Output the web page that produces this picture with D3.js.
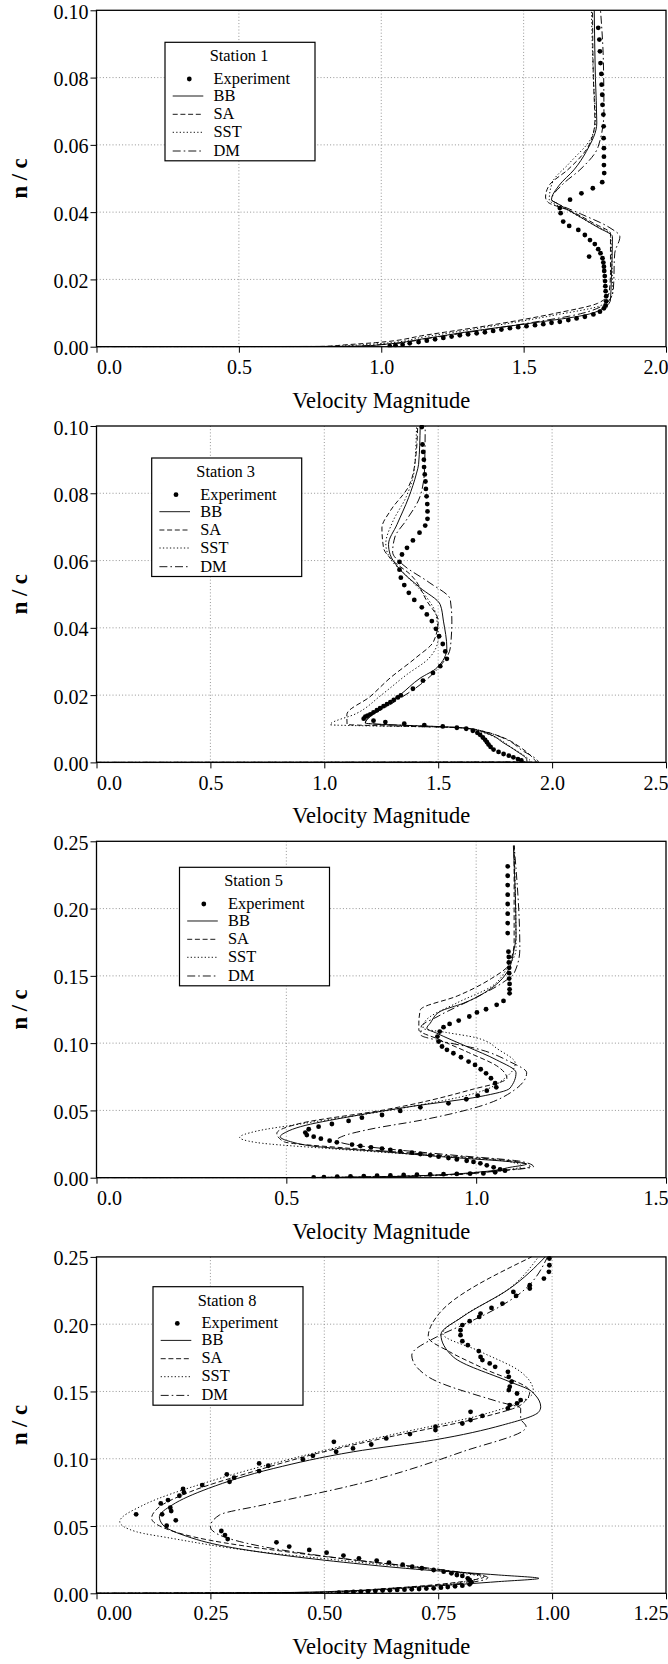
<!DOCTYPE html>
<html><head><meta charset="utf-8">
<script src="https://cdn.jsdelivr.net/npm/d3@7"></script>
<style>
body{margin:0;background:#fff}
svg{display:block}
svg text{font-family:"Liberation Serif","Times New Roman",Times,serif;}
</style>
</head><body>
<svg id="chart" width="668" height="1664"></svg>
<script>
// ---------------- DATA ----------------
const stationNames = ["Station 1", "Station 3", "Station 5", "Station 8"];
const seriesNames = ["Experiment", "BB", "SA", "SST", "DM"];
const xMaxes = [2.0, 2.5, 1.5, 1.25];
const yMaxes = [0.10, 0.10, 0.25, 0.25];
const xTickValues = [
  [0, 0.5, 1.0, 1.5, 2.0],
  [0, 0.5, 1.0, 1.5, 2.0, 2.5],
  [0, 0.5, 1.0, 1.5],
  [0, 0.25, 0.5, 0.75, 1.0, 1.25]
];
const xTickLabels = [
  ["0.0", "0.5", "1.0", "1.5", "2.0"],
  ["0.0", "0.5", "1.0", "1.5", "2.0", "2.5"],
  ["0.0", "0.5", "1.0", "1.5"],
  ["0.00", "0.25", "0.50", "0.75", "1.00", "1.25"]
];
const yTickValues = [
  [0, 0.02, 0.04, 0.06, 0.08, 0.10],
  [0, 0.02, 0.04, 0.06, 0.08, 0.10],
  [0, 0.05, 0.10, 0.15, 0.20, 0.25],
  [0, 0.05, 0.10, 0.15, 0.20, 0.25]
];
const yTickLabels = [
  ["0.00", "0.02", "0.04", "0.06", "0.08", "0.10"],
  ["0.00", "0.02", "0.04", "0.06", "0.08", "0.10"],
  ["0.00", "0.05", "0.10", "0.15", "0.20", "0.25"],
  ["0.00", "0.05", "0.10", "0.15", "0.20", "0.25"]
];
const xTitle = "Velocity Magnitude";
const yTitle = "n / c";

// Station 1  [velocity, n/c]
const exp1 = [[1.762,0.0948],[1.766,0.0913],[1.768,0.0878],[1.770,0.0843],[1.773,0.0811],[1.774,0.0779],[1.776,0.0749],[1.777,0.0719],[1.780,0.0690],[1.781,0.0655],[1.781,0.0620],[1.782,0.0590],[1.782,0.0565],[1.782,0.0540],[1.783,0.0516],[1.776,0.0489],[1.743,0.0471],[1.703,0.0456],[1.663,0.0437],[1.627,0.0412],[1.630,0.0397],[1.639,0.0372],[1.660,0.0359],[1.692,0.0347],[1.715,0.0332],[1.733,0.0317],[1.750,0.0305],[1.762,0.0290],[1.770,0.0278],[1.730,0.0268],[1.777,0.0263],[1.780,0.0250],[1.782,0.0238],[1.783,0.0225],[1.785,0.0210],[1.786,0.0195],[1.787,0.0180],[1.788,0.0165],[1.790,0.0150],[1.790,0.0135],[1.788,0.0122],[1.782,0.0114],[1.768,0.0104],[1.745,0.0096],[1.715,0.0089],[1.686,0.0084],[1.657,0.0079],[1.627,0.0074],[1.598,0.0071],[1.569,0.0067],[1.540,0.0064],[1.510,0.0061],[1.481,0.0058],[1.452,0.0055],[1.422,0.0051],[1.393,0.0047],[1.364,0.0043],[1.335,0.0040],[1.305,0.0037],[1.276,0.0034],[1.247,0.0030],[1.218,0.0026],[1.189,0.0022],[1.160,0.0018],[1.131,0.0014],[1.100,0.0010],[1.075,0.0006],[1.050,0.0004],[1.030,0.0002]];
const bb1 = [[0,0],[0.85,0.0001],[0.934,0.0002],[1.009,0.0007],[1.159,0.0025],[1.309,0.0045],[1.535,0.0071],[1.715,0.0094],[1.787,0.0119],[1.805,0.0139],[1.808,0.0200],[1.812,0.0327],[1.760,0.0355],[1.680,0.0395],[1.620,0.0425],[1.598,0.0437],[1.625,0.0480],[1.677,0.0526],[1.720,0.0580],[1.757,0.0665],[1.752,0.0800],[1.748,0.1000]];
const sa1 = [[0,0],[0.78,0.00005],[0.88,0.0006],[0.979,0.0012],[1.159,0.0035],[1.384,0.0064],[1.610,0.0099],[1.760,0.0129],[1.800,0.0160],[1.805,0.0220],[1.805,0.0337],[1.750,0.0365],[1.660,0.0405],[1.585,0.0430],[1.577,0.0445],[1.590,0.0480],[1.655,0.0526],[1.730,0.0600],[1.750,0.0670],[1.745,0.0800],[1.742,0.1000]];
const sst1 = [[0,0],[0.82,0.00005],[0.90,0.0004],[1.009,0.0010],[1.150,0.0029],[1.380,0.0060],[1.610,0.0094],[1.775,0.0124],[1.812,0.0160],[1.810,0.0250],[1.805,0.0332],[1.740,0.0365],[1.650,0.0408],[1.590,0.0437],[1.602,0.0490],[1.660,0.0545],[1.737,0.0620],[1.752,0.0670],[1.745,0.0800],[1.738,0.1000]];
const dm1 = [[0,0],[0.88,0.0001],[1.00,0.0006],[1.160,0.0024],[1.330,0.0046],[1.530,0.0072],[1.700,0.0098],[1.780,0.0123],[1.797,0.0134],[1.815,0.0169],[1.820,0.0278],[1.838,0.0327],[1.800,0.0355],[1.700,0.0395],[1.620,0.0425],[1.598,0.0437],[1.640,0.0485],[1.698,0.0526],[1.762,0.0595],[1.782,0.0700],[1.780,0.0850],[1.770,0.1000]];

// Station 3
const exp3 = [[1.428,0.0997],[1.431,0.0945],[1.434,0.0923],[1.437,0.0900],[1.438,0.0878],[1.441,0.0856],[1.444,0.0835],[1.446,0.0813],[1.449,0.0791],[1.452,0.0768],[1.453,0.0746],[1.453,0.0724],[1.443,0.0704],[1.418,0.0683],[1.389,0.0660],[1.363,0.0638],[1.341,0.0618],[1.330,0.0596],[1.330,0.0573],[1.336,0.0549],[1.351,0.0527],[1.371,0.0504],[1.395,0.0483],[1.428,0.0461],[1.450,0.0440],[1.472,0.0420],[1.490,0.0397],[1.504,0.0375],[1.520,0.0352],[1.531,0.0330],[1.538,0.0308],[1.509,0.0286],[1.477,0.0266],[1.433,0.0243],[1.389,0.0219],[1.336,0.0199],[1.322,0.0193],[1.305,0.0186],[1.290,0.0179],[1.275,0.0173],[1.260,0.0167],[1.245,0.0161],[1.231,0.0155],[1.216,0.0149],[1.202,0.0143],[1.190,0.0139],[1.180,0.0136],[1.173,0.0130],[1.216,0.0124],[1.268,0.0120],[1.351,0.0115],[1.439,0.0111],[1.520,0.0107],[1.582,0.0103],[1.623,0.0100],[1.652,0.0094],[1.672,0.0088],[1.684,0.0082],[1.696,0.0074],[1.706,0.0067],[1.714,0.0060],[1.721,0.0053],[1.730,0.0046],[1.743,0.0038],[1.765,0.0031],[1.787,0.0025],[1.810,0.0020],[1.830,0.0015],[1.850,0.0010],[1.865,0.0006]];
const bb3 = [[0,0],[1.89,0.0001],[1.889,0.0008],[1.845,0.0033],[1.787,0.0058],[1.720,0.0085],[1.660,0.0097],[1.600,0.0103],[1.180,0.0117],[1.250,0.0160],[1.333,0.0201],[1.420,0.0250],[1.494,0.0281],[1.538,0.0340],[1.523,0.0420],[1.509,0.0469],[1.421,0.0519],[1.326,0.0578],[1.289,0.0618],[1.282,0.0648],[1.319,0.0707],[1.370,0.0787],[1.405,0.0860],[1.414,0.0886],[1.421,0.1000]];
const sa3 = [[0,0],[1.93,0.0001],[1.920,0.0010],[1.860,0.0045],[1.780,0.0075],[1.700,0.0092],[1.620,0.0102],[1.100,0.0113],[1.099,0.0142],[1.200,0.0195],[1.289,0.0251],[1.400,0.0310],[1.480,0.0360],[1.500,0.0420],[1.450,0.0480],[1.377,0.0559],[1.304,0.0598],[1.260,0.0638],[1.253,0.0697],[1.289,0.0747],[1.370,0.0820],[1.400,0.0900],[1.410,0.1000]];
const sst3 = [[0,0],[1.91,0.0001],[1.900,0.0008],[1.820,0.0045],[1.740,0.0078],[1.680,0.0092],[1.600,0.0103],[1.026,0.0112],[1.140,0.0145],[1.250,0.0200],[1.360,0.0260],[1.460,0.0310],[1.500,0.0370],[1.490,0.0440],[1.450,0.0490],[1.360,0.0555],[1.290,0.0605],[1.270,0.0650],[1.300,0.0715],[1.360,0.0790],[1.395,0.0870],[1.405,0.1000]];
const dm3 = [[0,0],[1.94,0.0001],[1.933,0.0008],[1.870,0.0035],[1.800,0.0068],[1.720,0.0088],[1.620,0.0102],[1.180,0.0117],[1.194,0.0132],[1.289,0.0172],[1.421,0.0231],[1.500,0.0280],[1.553,0.0340],[1.560,0.0420],[1.553,0.0484],[1.460,0.0535],[1.350,0.0585],[1.300,0.0625],[1.310,0.0670],[1.360,0.0720],[1.420,0.0790],[1.440,0.0870],[1.443,0.1000]];

// Station 5
const exp5 = [[1.083,0.2314],[1.083,0.2244],[1.083,0.2175],[1.083,0.2103],[1.083,0.2034],[1.083,0.1962],[1.083,0.1892],[1.083,0.1818],[1.085,0.168],[1.086,0.164],[1.086,0.160],[1.087,0.156],[1.087,0.152],[1.087,0.148],[1.088,0.144],[1.088,0.140],[1.088,0.137],[1.072,0.1314],[1.054,0.1285],[1.026,0.1252],[1.002,0.1228],[0.982,0.1198],[0.954,0.1168],[0.930,0.1143],[0.914,0.1119],[0.904,0.1086],[0.898,0.1049],[0.901,0.1012],[0.910,0.0975],[0.923,0.0950],[0.940,0.0925],[0.960,0.0895],[0.980,0.0863],[0.997,0.0838],[1.012,0.0806],[1.026,0.0776],[1.039,0.0739],[1.050,0.0702],[1.053,0.0672],[1.028,0.0647],[1.004,0.0610],[0.974,0.0583],[0.927,0.0553],[0.853,0.0523],[0.800,0.0496],[0.752,0.0466],[0.699,0.0446],[0.664,0.0422],[0.620,0.0399],[0.585,0.0379],[0.559,0.0360],[0.550,0.0335],[0.554,0.0317],[0.572,0.0305],[0.591,0.0290],[0.614,0.0275],[0.633,0.0263],[0.673,0.0246],[0.695,0.0236],[0.723,0.0226],[0.752,0.0216],[0.774,0.0206],[0.800,0.0196],[0.831,0.0186],[0.853,0.0176],[0.879,0.0166],[0.901,0.0156],[0.927,0.0146],[0.949,0.0136],[0.975,0.0126],[0.993,0.0117],[1.011,0.0107],[1.028,0.0092],[1.046,0.0077],[1.063,0.0062],[1.076,0.0052],[1.050,0.0040],[1.019,0.0032],[0.984,0.0030],[0.949,0.0028],[0.914,0.0026],[0.879,0.0024],[0.844,0.0022],[0.809,0.0020],[0.774,0.0017],[0.739,0.0015],[0.704,0.0012],[0.669,0.0010],[0.634,0.0007],[0.599,0.0005],[0.572,0.0003]];
const bb5 = [[0,0],[0.55,0.0001],[0.80,0.0010],[1.019,0.0045],[1.089,0.0077],[1.133,0.0102],[1.089,0.0119],[0.932,0.0151],[0.756,0.0193],[0.581,0.0231],[0.511,0.0268],[0.484,0.0305],[0.500,0.0340],[0.537,0.0379],[0.668,0.0454],[0.826,0.0528],[1.010,0.0603],[1.089,0.0665],[1.105,0.0780],[1.054,0.0875],[0.975,0.0975],[0.896,0.1074],[0.870,0.1111],[0.879,0.1148],[0.905,0.1235],[0.967,0.1297],[1.046,0.1421],[1.085,0.1545],[1.100,0.1700],[1.105,0.1793],[1.098,0.2468]];
const sa5 = [[0,0],[0.55,0.0001],[0.85,0.0015],[1.050,0.0050],[1.142,0.0082],[1.107,0.0119],[0.896,0.0169],[0.668,0.0218],[0.493,0.0268],[0.475,0.0330],[0.537,0.0404],[0.756,0.0503],[0.984,0.0652],[1.081,0.0739],[1.060,0.0820],[0.980,0.0930],[0.900,0.1030],[0.849,0.1099],[0.849,0.1148],[0.853,0.1247],[0.950,0.1350],[1.040,0.1480],[1.085,0.1580],[1.100,0.1750],[1.100,0.2468]];
const sst5 = [[0,0],[0.55,0.0001],[0.85,0.0015],[1.050,0.0050],[1.120,0.0085],[1.080,0.0122],[0.880,0.0165],[0.620,0.0215],[0.420,0.0262],[0.377,0.0300],[0.420,0.0345],[0.550,0.0405],[0.780,0.0505],[1.000,0.0630],[1.080,0.0750],[1.103,0.0850],[1.060,0.0950],[1.000,0.1040],[0.920,0.1080],[0.860,0.1110],[0.865,0.1160],[0.950,0.1300],[1.040,0.1420],[1.080,0.1550],[1.105,0.1700],[1.100,0.2468]];
const dm5 = [[0,0],[0.55,0.0001],[0.86,0.0012],[1.060,0.0050],[1.151,0.0082],[1.120,0.0120],[0.950,0.0165],[0.780,0.0210],[0.660,0.0250],[0.633,0.0280],[0.650,0.0310],[0.720,0.0360],[0.860,0.0430],[1.020,0.0540],[1.100,0.0650],[1.133,0.0780],[1.090,0.0860],[1.000,0.0960],[0.900,0.1020],[0.855,0.1060],[0.855,0.1120],[0.900,0.1200],[1.000,0.1340],[1.070,0.1450],[1.100,0.1520],[1.115,0.1700],[1.100,0.2468]];

// Station 8
const exp8 = [[0.994,0.2488],[0.994,0.2438],[0.993,0.2389],[0.982,0.2339],[0.951,0.2290],[0.951,0.2265],[0.915,0.2240],[0.921,0.2210],[0.891,0.2153],[0.867,0.2121],[0.843,0.2079],[0.840,0.2054],[0.819,0.2022],[0.803,0.1993],[0.799,0.1955],[0.799,0.1918],[0.803,0.1874],[0.815,0.1844],[0.839,0.1800],[0.843,0.1757],[0.847,0.1733],[0.863,0.1708],[0.875,0.1683],[0.903,0.1646],[0.905,0.1609],[0.911,0.1572],[0.907,0.1535],[0.905,0.1510],[0.923,0.1485],[0.931,0.1436],[0.923,0.1411],[0.907,0.1399],[0.903,0.1374],[0.821,0.1349],[0.847,0.1319],[0.821,0.1287],[0.803,0.1262],[0.744,0.1238],[0.744,0.1213],[0.688,0.1183],[0.636,0.1151],[0.521,0.1126],[0.603,0.1106],[0.563,0.1077],[0.526,0.1052],[0.475,0.1022],[0.453,0.0995],[0.357,0.0965],[0.377,0.0948],[0.357,0.0908],[0.286,0.0884],[0.302,0.0859],[0.292,0.0829],[0.232,0.0804],[0.190,0.0775],[0.192,0.0750],[0.182,0.0725],[0.157,0.0693],[0.141,0.0668],[0.162,0.0636],[0.164,0.0611],[0.144,0.0587],[0.087,0.0587],[0.174,0.0542],[0.154,0.0502],[0.274,0.0463],[0.282,0.0433],[0.288,0.0403],[0.395,0.0379],[0.423,0.0347],[0.467,0.0322],[0.505,0.0302],[0.542,0.0280],[0.576,0.0260],[0.615,0.0243],[0.642,0.0228],[0.672,0.0213],[0.693,0.0198],[0.714,0.0186],[0.740,0.0173],[0.762,0.0161],[0.779,0.0149],[0.791,0.0136],[0.803,0.0129],[0.815,0.0111],[0.819,0.0099],[0.823,0.0082],[0.819,0.0067],[0.803,0.0057],[0.787,0.0052],[0.771,0.0047],[0.756,0.0042],[0.740,0.0037],[0.724,0.0035],[0.708,0.0032],[0.692,0.0030],[0.676,0.0027],[0.660,0.0025],[0.644,0.0022],[0.628,0.0020],[0.612,0.0017],[0.596,0.0015],[0.580,0.0012],[0.564,0.0010],[0.548,0.0007],[0.532,0.0005]];
const bb8 = [[0,0],[0.405,0.0005],[0.564,0.0020],[0.723,0.0050],[0.883,0.0087],[0.971,0.0111],[0.883,0.0136],[0.723,0.0173],[0.564,0.0223],[0.405,0.0285],[0.286,0.0347],[0.190,0.0433],[0.146,0.0507],[0.138,0.0569],[0.166,0.0656],[0.246,0.0780],[0.389,0.0928],[0.564,0.1052],[0.740,0.1139],[0.891,0.1250],[0.971,0.1349],[0.975,0.1386],[0.963,0.1473],[0.951,0.1510],[0.907,0.1572],[0.783,0.1757],[0.756,0.1923],[0.803,0.2054],[0.907,0.2265],[0.985,0.2500]];
const sa8 = [[0,0],[0.500,0.0008],[0.644,0.0037],[0.803,0.0087],[0.851,0.0124],[0.723,0.0186],[0.564,0.0248],[0.405,0.0314],[0.246,0.0396],[0.150,0.0483],[0.121,0.0557],[0.134,0.0631],[0.206,0.0755],[0.342,0.0903],[0.485,0.1040],[0.644,0.1163],[0.851,0.1312],[0.931,0.1399],[0.951,0.1498],[0.850,0.1670],[0.775,0.1795],[0.728,0.1906],[0.752,0.2079],[0.955,0.2500]];
const sst8 = [[0,0],[0.500,0.0006],[0.660,0.0035],[0.843,0.0124],[0.803,0.0149],[0.564,0.0235],[0.325,0.0322],[0.166,0.0408],[0.087,0.0458],[0.051,0.0532],[0.103,0.0656],[0.246,0.0829],[0.445,0.1015],[0.644,0.1176],[0.843,0.1324],[0.931,0.1423],[0.959,0.1498],[0.931,0.1646],[0.840,0.1800],[0.760,0.1930],[0.800,0.2050],[0.900,0.2250],[0.970,0.2500]];
const dm8 = [[0,0],[0.500,0.0008],[0.644,0.0037],[0.803,0.0074],[0.859,0.0116],[0.763,0.0173],[0.564,0.0248],[0.365,0.0347],[0.270,0.0433],[0.250,0.0495],[0.270,0.0582],[0.365,0.0656],[0.564,0.0804],[0.803,0.1052],[0.943,0.1238],[0.931,0.1300],[0.931,0.1374],[0.883,0.1423],[0.728,0.1609],[0.692,0.1770],[0.747,0.1906],[0.803,0.1993],[0.850,0.2067],[0.918,0.2200],[0.990,0.2500]];

const expData = [exp1, exp3, exp5, exp8];
const bbData = [bb1, bb3, bb5, bb8];
const saData = [sa1, sa3, sa5, sa8];
const sstData = [sst1, sst3, sst5, sst8];
const dmData = [dm1, dm3, dm5, dm8];

// ---------------- LAYOUT / STYLE ----------------
const FONT = "Liberation Serif, Times New Roman, Times, serif";
const plotLeft = 96.5, plotRight = 666, plotH = 336.4;
const panelTops = [10.3, 426.0, 841.3, 1256.9];
const legendPos = [[165, 42.3], [151.7, 458], [179.5, 867.3], [153, 1286.7]];
const legendW = 150, legendH = 118.5;
const dashes = {BB: null, SA: "5,2.7", SST: "1.3,2.2", DM: "8,3,1.6,3"};

const svg = d3.select("#chart").attr("font-family", FONT);
svg.append("rect").attr("width", 668).attr("height", 1664).attr("fill", "#fff");

function drawPanel(i) {
  const top = panelTops[i], bottom = top + plotH;
  const g = svg.append("g");
  const x = d3.scaleLinear().domain([0, xMaxes[i]]).range([plotLeft, plotRight]);
  const y = d3.scaleLinear().domain([0, yMaxes[i]]).range([bottom, top]);

  // grid
  const grid = g.append("g").attr("stroke", "#8a8a8a").attr("stroke-width", 0.9)
    .attr("stroke-dasharray", "1,2.2").attr("fill", "none");
  xTickValues[i].slice(1, -1).forEach(v => {
    grid.append("line").attr("x1", x(v)).attr("x2", x(v)).attr("y1", top).attr("y2", bottom);
  });
  yTickValues[i].slice(1, -1).forEach(v => {
    grid.append("line").attr("y1", y(v)).attr("y2", y(v)).attr("x1", plotLeft).attr("x2", plotRight);
  });

  // clip
  const cid = "clip" + i;
  svg.append("clipPath").attr("id", cid).append("rect")
    .attr("x", plotLeft).attr("y", top - 1).attr("width", plotRight - plotLeft).attr("height", plotH + 1.5);
  const data = g.append("g").attr("clip-path", `url(#${cid})`);

  const line = d3.line().x(d => x(d[0])).y(d => y(d[1])).curve(d3.curveMonotoneY);
  const model = {BB: bbData[i], SA: saData[i], SST: sstData[i], DM: dmData[i]};
  ["DM", "SST", "SA", "BB"].forEach(k => {
    data.append("path").datum(model[k]).attr("d", line)
      .attr("fill", "none").attr("stroke", "#000").attr("stroke-width", 0.95)
      .attr("stroke-dasharray", dashes[k]);
  });
  data.append("g").selectAll("circle").data(expData[i]).join("circle")
    .attr("cx", d => x(d[0])).attr("cy", d => y(d[1])).attr("r", 2.4).attr("fill", "#000");

  // frame
  g.append("rect").attr("x", plotLeft).attr("y", top).attr("width", plotRight - plotLeft).attr("height", plotH)
    .attr("fill", "none").attr("stroke", "#000").attr("stroke-width", 1.3);

  // x axis
  const xa = g.append("g").attr("transform", `translate(0,${bottom})`)
    .call(d3.axisBottom(x).tickValues(xTickValues[i]).tickSize(6).tickSizeOuter(0).tickPadding(7)
      .tickFormat((d, j) => xTickLabels[i][j]));
  xa.select(".domain").remove();
  xa.attr("font-family", FONT).attr("font-size", 20);
  xa.selectAll("line").attr("stroke", "#000");
  xa.selectAll("text").attr("fill", "#000");
  const n = xTickValues[i].length;
  xa.selectAll(".tick").each(function (d, j) {
    const t = d3.select(this).select("text");
    if (j === 0) t.attr("text-anchor", "start").attr("x", 0);
    if (j === n - 1) t.attr("text-anchor", "end").attr("x", 2);
  });

  // y axis
  const ya = g.append("g").attr("transform", `translate(${plotLeft},0)`)
    .call(d3.axisLeft(y).tickValues(yTickValues[i]).tickSize(6).tickSizeOuter(0).tickPadding(2)
      .tickFormat((d, j) => yTickLabels[i][j]));
  ya.select(".domain").remove();
  ya.attr("font-family", FONT).attr("font-size", 20);
  ya.selectAll("line").attr("stroke", "#000");
  ya.selectAll("text").attr("fill", "#000").attr("dy", "0.4em");

  // titles
  g.append("text").attr("x", (plotLeft + plotRight) / 2).attr("y", bottom + 61)
    .attr("text-anchor", "middle").attr("font-size", 22.5).text(xTitle);
  g.append("text").attr("transform", `translate(27,${(top + bottom) / 2}) rotate(-90)`)
    .attr("text-anchor", "middle").attr("font-size", 22.5).attr("font-weight", "bold").text(yTitle);

  // legend
  const [lx, ly] = legendPos[i];
  const lg = g.append("g").attr("transform", `translate(${lx},${ly})`);
  lg.append("rect").attr("width", legendW).attr("height", legendH)
    .attr("fill", "#fff").attr("stroke", "#000").attr("stroke-width", 1.2);
  lg.append("text").attr("x", legendW / 2 - 1).attr("y", 19).attr("text-anchor", "middle")
    .attr("font-size", 16.4).text(stationNames[i]);
  const rowY = [36.7, 53.7, 72, 90, 108.7];
  seriesNames.forEach((s, j) => {
    if (j === 0) {
      lg.append("circle").attr("cx", 24.3).attr("cy", rowY[j]).attr("r", 2.4).attr("fill", "#000");
    } else {
      lg.append("line").attr("x1", 7.7).attr("x2", 38.3).attr("y1", rowY[j]).attr("y2", rowY[j])
        .attr("stroke", "#000").attr("stroke-width", 0.9).attr("stroke-dasharray", dashes[s]);
    }
    lg.append("text").attr("x", 48.5).attr("y", rowY[j] + 4.8).attr("font-size", 16.4).text(s);
  });
}

[0, 1, 2, 3].forEach(drawPanel);
</script>
</body></html>
